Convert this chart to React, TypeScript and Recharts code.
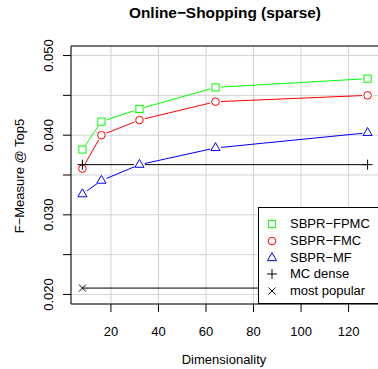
import React from 'react';
import { LineChart, Line, XAxis, YAxis, CartesianGrid, ReferenceArea, Legend } from 'recharts';

// dimensionality (x) and F-measure @ top5 per method
const dims = [8, 16, 32, 64, 128];
const fpmc = [0.0382, 0.0417, 0.0433, 0.046, 0.0471];
const fmc = [0.0358, 0.04, 0.0419, 0.0442, 0.045];
const mf = [0.0326, 0.0343, 0.0363, 0.0384, 0.0403];
// baselines do not depend on dimensionality
const baselineDims = [8, 128];
const mcDense = 0.0363;
const mostPopular = 0.0208;

const xTicks = [20, 40, 60, 80, 100, 120];
const yTicks = [0.02, 0.025, 0.03, 0.035, 0.04, 0.045, 0.05];
const yLabelled = [0.02, 0.03, 0.04, 0.05];

const FONT = '"Liberation Sans", Arial, Helvetica, sans-serif';

const rows = (vals: number[]) => dims.map((d, i) => ({ dim: d, v: vals[i] }));
const flat = (v: number) => baselineDims.map((d) => ({ dim: d, v }));

type Kind = 'square' | 'circle' | 'triangle' | 'plus' | 'cross';

function Marker({ kind, cx, cy, color }: { kind: Kind; cx: number; cy: number; color: string }) {
    if (kind === 'square') {
        return <rect x={cx - 3.6} y={cy - 3.6} width={7.2} height={7.2} fill="none" stroke={color} strokeWidth={1} />;
    }
    if (kind === 'circle') {
        return <circle cx={cx} cy={cy} r={3.8} fill="none" stroke={color} strokeWidth={1} />;
    }
    if (kind === 'triangle') {
        const a = 3.4;
        const pts = `${cx},${cy - 1.555 * a} ${cx + 1.347 * a},${cy + 0.778 * a} ${cx - 1.347 * a},${cy + 0.778 * a}`;
        return <polygon points={pts} fill="none" stroke={color} strokeWidth={1} />;
    }
    if (kind === 'plus') {
        return (
            <g stroke={color} strokeWidth={1}>
                <line x1={cx - 5} y1={cy} x2={cx + 5} y2={cy} />
                <line x1={cx} y1={cy - 5} x2={cx} y2={cy + 5} />
            </g>
        );
    }
    return (
        <g stroke={color} strokeWidth={1}>
            <line x1={cx - 3.5} y1={cy - 3.5} x2={cx + 3.5} y2={cy + 3.5} />
            <line x1={cx - 3.5} y1={cy + 3.5} x2={cx + 3.5} y2={cy - 3.5} />
        </g>
    );
}

// type="b" look: a white gap around each point
const haloDot = (kind: Kind, color: string) => (p: any) => (
    <g key={`${kind}-${p.index}`}>
        <circle cx={p.cx} cy={p.cy} r={5.5} fill="#fff" />
        <Marker kind={kind} cx={p.cx} cy={p.cy} color={color} />
    </g>
);

const plainDot = (kind: Kind, color: string) => (p: any) => (
    <g key={`${kind}-${p.index}`}>
        <Marker kind={kind} cx={p.cx} cy={p.cy} color={color} />
    </g>
);

const series = [
    { name: 'SBPR−FPMC', kind: 'square' as Kind, color: '#00ff00' },
    { name: 'SBPR−FMC', kind: 'circle' as Kind, color: '#ff0000' },
    { name: 'SBPR−MF', kind: 'triangle' as Kind, color: '#0000ff' },
    { name: 'MC dense', kind: 'plus' as Kind, color: '#000000' },
    { name: 'most popular', kind: 'cross' as Kind, color: '#000000' },
];

function XTick({ x, y, payload }: any) {
    return (
        <text x={x} y={y + 22} textAnchor="middle" fontSize={13} fontFamily={FONT} fill="#000">
            {payload.value}
        </text>
    );
}

function YTick({ y, payload }: any) {
    const v = payload.value;
    if (!yLabelled.some((t) => Math.abs(t - v) < 1e-9)) return <g />;
    return (
        <text x={53} y={y} transform={`rotate(-90, 53, ${y})`} textAnchor="middle" fontSize={13} fontFamily={FONT} fill="#000">
            {v.toFixed(3)}
        </text>
    );
}

function XTitle() {
    return (
        <text x={224} y={364} textAnchor="middle" fontSize={13} fontFamily={FONT} fill="#000">
            Dimensionality
        </text>
    );
}

function YTitle() {
    return (
        <text x={24} y={176} transform="rotate(-90, 24, 176)" textAnchor="middle" fontSize={13} fontFamily={FONT} fill="#000">
            F−Measure @ Top5
        </text>
    );
}

function LegendBox() {
    return (
        <div
            style={{
                position: 'relative',
                width: 130,
                height: 97,
                border: '1px solid #000',
                background: '#fff',
                boxSizing: 'border-box',
                fontFamily: FONT,
                fontSize: 13,
                color: '#000',
            }}
        >
            {series.map((s, i) => (
                <div key={s.name} style={{ position: 'absolute', left: 0, top: 8 + i * 16.7, height: 16.7, display: 'flex', alignItems: 'center' }}>
                    <svg width={24} height={16} style={{ marginLeft: 1 }}>
                        <Marker kind={s.kind} cx={12} cy={8} color={s.color} />
                    </svg>
                    <span style={{ marginLeft: 6, whiteSpace: 'nowrap', lineHeight: '16px' }}>{s.name}</span>
                </div>
            ))}
        </div>
    );
}

export default function App() {
    return (
        <div style={{ position: 'absolute', left: 0, top: 0, width: 378, height: 369, overflow: 'hidden', background: '#fff' }}>
            <div
                style={{
                    position: 'absolute',
                    left: 71,
                    width: 308,
                    top: 4,
                    textAlign: 'center',
                    fontFamily: FONT,
                    fontWeight: 'bold',
                    fontSize: 15.4,
                    lineHeight: '18px',
                }}
            >
                Online−Shopping (sparse)
            </div>
            <LineChart width={379} height={369} margin={{ top: 46, right: 0, bottom: 0, left: 0 }}>
                <CartesianGrid stroke="#d3d3d3" strokeWidth={1} />
                <XAxis
                    dataKey="dim"
                    type="number"
                    domain={[3.2, 132.8]}
                    ticks={xTicks}
                    allowDataOverflow
                    height={65}
                    axisLine={false}
                    tickLine={{ stroke: '#000' }}
                    tickSize={8}
                    tickMargin={2}
                    tick={<XTick />}
                    label={<XTitle />}
                />
                <YAxis
                    type="number"
                    domain={[0.0188, 0.0512]}
                    ticks={yTicks}
                    allowDataOverflow
                    width={71}
                    axisLine={false}
                    tickLine={{ stroke: '#000' }}
                    tickSize={8}
                    tick={<YTick />}
                    label={<YTitle />}
                />
                <ReferenceArea x1={3.2} x2={132.8} y1={0.0188} y2={0.0512} fill="none" stroke="#000" strokeWidth={1} ifOverflow="visible" />
                <Line data={rows(fpmc)} dataKey="v" stroke="#00ff00" strokeWidth={1} dot={haloDot('square', '#00ff00')} isAnimationActive={false} />
                <Line data={rows(fmc)} dataKey="v" stroke="#ff0000" strokeWidth={1} dot={haloDot('circle', '#ff0000')} isAnimationActive={false} />
                <Line data={rows(mf)} dataKey="v" stroke="#0000ff" strokeWidth={1} dot={haloDot('triangle', '#0000ff')} isAnimationActive={false} />
                <Line data={flat(mcDense)} dataKey="v" stroke="#000" strokeWidth={1} dot={plainDot('plus', '#000')} isAnimationActive={false} />
                <Line data={flat(mostPopular)} dataKey="v" stroke="#000" strokeWidth={1} dot={plainDot('cross', '#000')} isAnimationActive={false} />
                <Legend
                    layout="horizontal"
                    verticalAlign="middle"
                    align="center"
                    content={<LegendBox />}
                    wrapperStyle={{ position: 'absolute', left: 258, top: 207, width: 130, height: 97 }}
                />
            </LineChart>
        </div>
    );
}
